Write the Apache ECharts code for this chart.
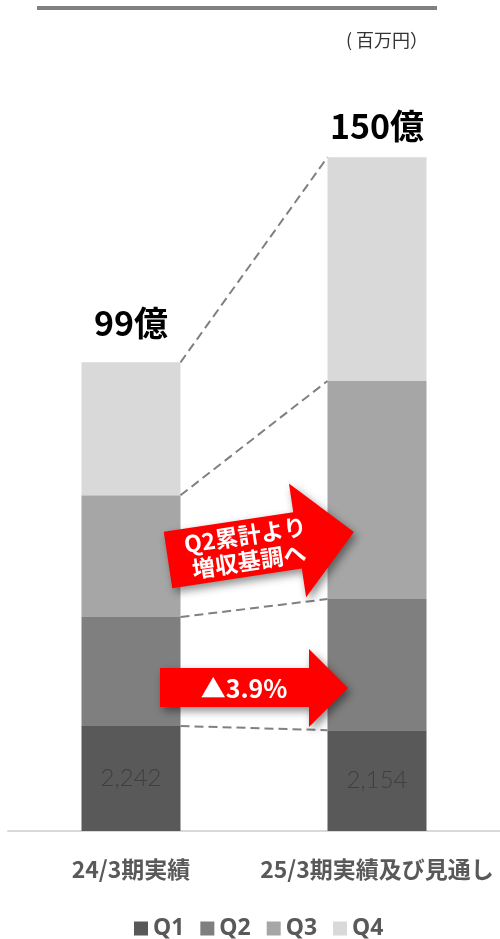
<!DOCTYPE html>
<html>
<head>
<meta charset="utf-8">
<script src="https://cdn.jsdelivr.net/npm/echarts@6/dist/echarts.min.js"></script>
<style>
  html, body { margin: 0; padding: 0; background: #fff; }
  #main { width: 500px; height: 939px; }
</style>
</head>
<body>
<div id="main"></div>
<script>
// 売上高（百万円）四半期積み上げ
const categories = ["24/3期実績", "25/3期実績及び見通し"];
const seriesNames = ["Q1", "Q2", "Q3", "Q4"];
const q1 = [2242, 2154];
const q2 = [2330, 2800];
const q3 = [2600, 4660];
const q4 = [2840, 4780];
const totalLabels = ["99億", "150億"];
const colors = ["#595959", "#7f7f7f", "#a6a6a6", "#d9d9d9"];

const chartDom = document.getElementById("main");
const myChart = echarts.init(chartDom, null, { renderer: "canvas" });

const barWidth = 99;
const jpFont = "'Noto Sans CJK JP', 'Noto Sans', sans-serif";

const option = {
  animation: false,
  grid: { left: 8, width: 496, top: 82, bottom: 108 },
  legend: {
    data: seriesNames,
    top: 912,
    left: 129,
    icon: "rect",
    itemWidth: 14,
    itemHeight: 14,
    itemGap: 16,
    textStyle: { fontSize: 23, fontWeight: "bold", color: "#595959", fontFamily: "'Noto Sans', sans-serif" },
  },
  xAxis: {
    type: "category",
    data: categories,
    axisLine: { lineStyle: { color: "#d9d9d9", width: 2 } },
    axisTick: { show: false },
    axisLabel: {
      interval: 0,
      hideOverlap: false,
      margin: 27,
      fontSize: 23,
      fontWeight: "bold",
      color: "#595959",
      fontFamily: jpFont,
    },
  },
  yAxis: {
    type: "value",
    min: 0,
    max: 16000,
    show: false,
    splitLine: { show: false },
  },
  series: [
    {
      name: "Q1",
      type: "bar",
      stack: "total",
      barWidth: barWidth,
      itemStyle: { color: colors[0] },
      label: {
        show: true,
        position: "inside",
        fontSize: 24,
        fontWeight: 300,
        color: "#3f3f3f",
        fontFamily: "Lato, sans-serif",
        formatter: (p) => p.value.toLocaleString("en-US"),
      },
      data: q1,
    },
    { name: "Q2", type: "bar", stack: "total", barWidth: barWidth, itemStyle: { color: colors[1] }, data: q2 },
    { name: "Q3", type: "bar", stack: "total", barWidth: barWidth, itemStyle: { color: colors[2] }, data: q3 },
    {
      name: "Q4",
      type: "bar",
      stack: "total",
      barWidth: barWidth,
      itemStyle: { color: colors[3] },
      label: {
        show: true,
        position: "top",
        fontSize: 34,
        fontWeight: "bold",
        color: "#000",
        fontFamily: jpFont,
        formatter: (p) => totalLabels[p.dataIndex],
      },
      data: q4.map((v, i) => ({ value: v, label: { distance: i === 0 ? 22 : 14 } })),
    },
  ],
};

myChart.setOption(option);

// 積み上げ境界を点線で結ぶ
const stacks = [q1, q2, q3, q4];
const cum = categories.map((c, i) => {
  let s = 0;
  return stacks.map((arr) => (s += arr[i]));
});

const graphics = [];

// 上部の区切り線
graphics.push({
  type: "line",
  shape: { x1: 37, y1: 8, x2: 437, y2: 8 },
  style: { stroke: "#808080", lineWidth: 4 },
});
// 単位
graphics.push({
  type: "text",
  x: 428,
  y: 40,
  style: {
    text: "( 百万円）",
    fill: "#333",
    font: "18px 'Noto Sans CJK JP'",
    align: "right",
    verticalAlign: "middle",
  },
});

for (let k = 0; k < 4; k++) {
  const p1 = myChart.convertToPixel({ gridIndex: 0 }, [0, cum[0][k]]);
  const p2 = myChart.convertToPixel({ gridIndex: 0 }, [1, cum[1][k]]);
  graphics.push({
    type: "line",
    z: 10,
    shape: { x1: p1[0] + barWidth / 2, y1: p1[1], x2: p2[0] - barWidth / 2, y2: p2[1] },
    style: { stroke: "#808080", lineWidth: 2, lineDash: [9, 5] },
  });
}

const arrowShadow = {
  shadowBlur: 8,
  shadowOffsetX: 3,
  shadowOffsetY: 4,
  shadowColor: "rgba(0,0,0,0.45)",
};

// 斜めの矢印
graphics.push({
  type: "group",
  x: 168,
  y: 560,
  rotation: (8.6 * Math.PI) / 180,
  z: 100,
  children: [
    {
      type: "polygon",
      z: 100,
      shape: {
        points: [
          [0, -28.5], [131, -28.5], [131, -57.5], [188, 0],
          [131, 57.5], [131, 28.5], [0, 28.5],
        ],
      },
      style: Object.assign({ fill: "#ff0000" }, arrowShadow),
    },
    {
      type: "text",
      z: 101,
      x: 80,
      y: 0,
      style: {
        text: "Q2累計より\n増収基調へ",
        fill: "#fff",
        font: "bold 23px 'Noto Sans CJK JP'",
        lineHeight: 26,
        align: "center",
        verticalAlign: "middle",
      },
    },
  ],
});

// 横向きの矢印
graphics.push({
  type: "group",
  z: 100,
  children: [
    {
      type: "polygon",
      z: 100,
      shape: {
        points: [
          [160, 668], [309, 668], [309, 649], [348, 688],
          [309, 727], [309, 707], [160, 707],
        ],
      },
      style: Object.assign({ fill: "#ff0000" }, arrowShadow),
    },
    {
      type: "text",
      z: 101,
      x: 244,
      y: 688,
      style: {
        text: "▲3.9%",
        fill: "#fff",
        font: "bold 25px 'Noto Sans CJK JP'",
        align: "center",
        verticalAlign: "middle",
      },
    },
  ],
});

myChart.setOption({ graphic: graphics });
</script>
</body>
</html>
